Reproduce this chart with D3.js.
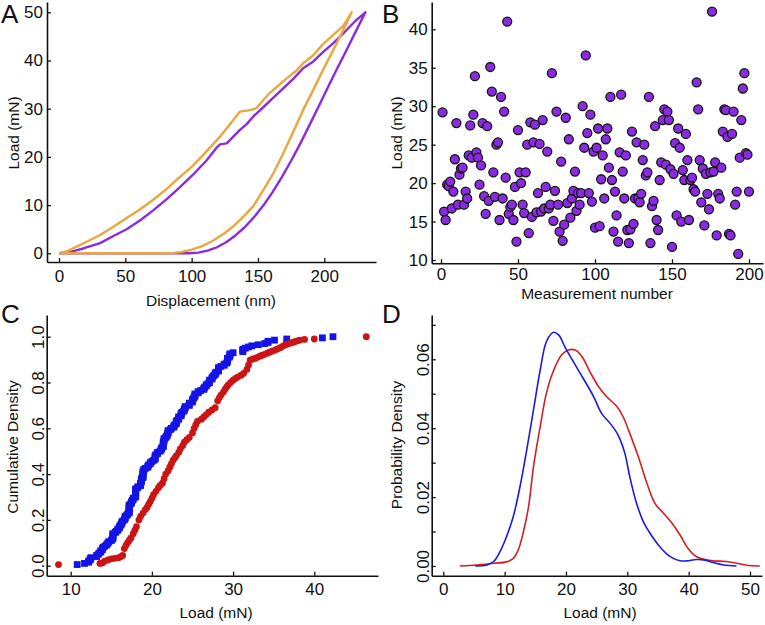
<!DOCTYPE html>
<html><head><meta charset="utf-8">
<script src="https://cdn.jsdelivr.net/npm/d3@7"></script>
<style>
body{margin:0;background:#fff}
svg{display:block}
text{font-family:"Liberation Sans",Arial,Helvetica,sans-serif;fill:#111}
</style>
</head><body>
<svg id="c" width="765" height="625"></svg>
<script>
// ---------- Panel A: load-displacement curves ----------
const orangeDisp = [0,7,13.3,20.9,30.9,41,51,61,71,81,91,101,111,121,131,136.4,144,149,154,159,166.6,174,179,184,191.7,199,206.8,214.3,220.6,
  214.3,206.8,199,191.7,184,176.6,169,161.6,154,146.5,139,131,124,116,108,100,92,85,80,0];
const orangeLoad = [0,0.55,1.4,2.4,3.8,5.5,7.3,9.1,11.1,13.3,15.8,18.2,21.1,24.1,27.5,29.4,29.7,30.1,31.8,33.3,35.1,36.8,37.9,39.4,41.1,43.4,45.3,47.2,50,
  46.3,42.2,38.0,33.9,29.7,25.2,20.7,16.6,13.1,9.8,7.6,5.5,4.0,2.6,1.5,0.75,0.25,0.03,0,0];
const purpleDisp = [0,9.5,18.3,31,41,51,61,71,81,91,101,111,118.8,121.4,126.4,131.4,136.4,141.5,146.5,154,161.6,169,176.6,184,191.7,199.2,206.8,214.3,223,231,
  224,217,210,203,196,189,182,175,168,161,154,147,140,133,126,119,112,105,98,95,0];
const purpleLoad = [0,0.35,1.0,2.1,3.6,5.0,6.8,8.9,11.2,13.7,16.3,19.2,21.9,22.6,22.8,24.2,25.6,26.8,28.4,30.3,32.3,34.2,36.2,38.4,39.8,41.8,43.6,45.6,48.1,50,
  46.2,42.3,38.5,34.6,30.6,26.7,22.8,19.2,15.8,12.7,9.9,7.5,5.4,3.7,2.3,1.25,0.55,0.15,0.02,0,0];
const ticksA_x = [0,50,100,150,200];
const ticksA_y = [0,10,20,30,40,50];

// ---------- Panel B: load per measurement (n = 1..200) ----------
const loadB = [
29.2,16.3,15.2,19.8,19.6,20.2,16.7,18.9,23.1,27.8,
17.2,21.1,21.9,22.0,17.2,18.9,18.0,23.6,27.5,23.3,
28.9,33.9,24.0,23.3,19.8,22.3,27.8,18.3,16.0,27.4,
17.7,35.1,31.9,21.4,18.2,25.0,25.3,15.2,31.2,18.0,
29.3,20.7,41.0,16.0,16.9,17.2,15.2,19.5,12.4,26.9,
21.4,20.0,17.2,16.1,21.4,25.0,13.5,27.9,15.6,25.3,
27.6,16.2,18.7,25.1,16.3,28.2,16.7,19.5,24.1,16.7,
17.2,34.3,15.1,19.0,29.3,17.2,13.7,22.8,12.5,14.6,
28.5,17.4,25.7,15.5,18.0,19.0,21.5,16.4,18.7,17.2,
18.7,30.0,24.6,36.6,26.5,18.7,28.9,17.6,24.1,14.2,
24.6,27.1,14.4,20.5,23.6,18.0,25.7,27.1,22.0,31.2,
20.4,13.7,18.9,15.8,12.4,24.0,31.5,21.5,18.0,23.6,
13.9,12.2,14.0,26.7,14.7,18.0,25.3,18.0,17.5,18.6,
23.0,25.0,21.0,21.4,31.2,12.2,17.0,17.7,27.4,15.2,
13.9,20.4,22.7,28.2,29.6,22.4,29.3,28.2,21.8,11.7,
21.2,25.2,15.8,27.1,24.6,15.0,21.7,20.4,26.4,23.0,
15.2,20.4,20.7,19.2,18.9,33.1,29.6,23.0,17.5,21.9,
14.5,21.2,18.6,16.6,21.4,42.3,21.5,22.7,13.2,18.6,
18.0,22.0,26.7,29.6,29.5,26.0,13.4,13.2,26.4,29.3,
17.2,18.9,10.8,23.3,28.2,32.3,34.3,23.9,23.7,18.9];
const ticksB_x = [0,50,100,150,200];
const ticksB_y = [10,15,20,25,30,35,40];

// ---------- Panel C: cumulative density (red series) ----------
const redLoadC = [8.5,13.6,13.9,14.2,14.6,15.0,15.4,15.9,16.2,16.4,16.6,16.8,17.0,17.2,17.4,17.7,17.9,18.1,18.4,18.6,18.9,19.2,19.4,19.6,19.8,20.0,20.2,20.5,20.8,21.0,21.3,21.5,21.7,22.0,22.2,22.4,22.6,22.8,23.0,23.3,23.5,23.8,24.0,24.3,24.6,25.0,25.2,25.4,25.6,26.1,26.4,26.7,27.0,27.4,27.8,28.1,28.3,28.5,28.8,29.0,29.2,29.4,29.7,30.0,30.3,30.6,31.0,31.3,31.7,31.9,32.1,32.4,32.7,33.0,33.3,33.6,33.9,34.2,34.5,34.8,35.2,35.5,35.8,36.1,36.4,36.7,37.0,37.3,37.6,37.9,38.2,38.8,40.0,46.4];
const redCumC  = [0.005,0.01,0.012,0.02,0.025,0.03,0.032,0.035,0.04,0.045,0.075,0.088,0.10,0.11,0.12,0.14,0.155,0.17,0.20,0.215,0.23,0.245,0.255,0.268,0.28,0.295,0.31,0.325,0.34,0.35,0.36,0.38,0.40,0.415,0.43,0.445,0.46,0.47,0.48,0.495,0.51,0.525,0.54,0.55,0.56,0.58,0.60,0.615,0.63,0.64,0.65,0.66,0.67,0.68,0.69,0.72,0.733,0.745,0.758,0.77,0.78,0.79,0.80,0.81,0.818,0.825,0.832,0.84,0.857,0.876,0.898,0.902,0.905,0.91,0.915,0.919,0.923,0.928,0.932,0.937,0.942,0.947,0.952,0.958,0.964,0.968,0.971,0.975,0.978,0.982,0.985,0.988,0.99,1.0];
const ticksC_x = [10,20,30,40];
const ticksC_y = [0,0.2,0.4,0.6,0.8,1.0];

// ---------- Panel D: probability density curves ----------
const blueDensX = [5.2,7.1,8.2,9.2,10.3,11.4,12.5,13.6,14.7,15.8,16.8,17.9,18.8,19.8,21.2,22.8,24.5,25.8,27.2,28.5,29.6,30.4,31.5,32.6,33.7,35.3,37.0,38.6,39.7,41.3,42.7,44.0,45.7,47.8];
const blueDensY = [0,0.0003,0.0013,0.004,0.0085,0.0143,0.023,0.0337,0.0453,0.0569,0.0651,0.0678,0.0671,0.0637,0.0593,0.0545,0.0492,0.0443,0.0414,0.038,0.0327,0.0259,0.0182,0.0129,0.0095,0.0056,0.0027,0.0015,0.0015,0.0019,0.0017,0.001,0.0003,0];
const redDensX = [2.7,5.4,8.2,10.3,11.4,12.2,13.0,13.9,14.7,15.8,16.8,17.9,19.3,20.4,21.5,22.6,23.9,25.3,26.6,28.3,29.3,30.4,31.8,33.2,34.5,35.9,37.2,38.6,39.9,41.3,42.7,44.0,46.2,47.8,49.5,51.6];
const redDensY = [0,0.0003,0.0008,0.0012,0.0022,0.0046,0.0095,0.0172,0.0288,0.0405,0.0501,0.0564,0.0613,0.0627,0.0627,0.0608,0.0564,0.0521,0.0492,0.0463,0.0434,0.0385,0.0317,0.024,0.0182,0.0153,0.0126,0.009,0.0051,0.0027,0.0019,0.0015,0.0013,0.0008,0.0002,0];
const ticksD_x = [0,10,20,30,40,50];
const ticksD_y = [0,0.01,0.02,0.03,0.04,0.05,0.06,0.07];

// ---------- helpers ----------
const svg = d3.select("#c");
const FONT_TICK = 17, FONT_TITLE = 15.5;
function lin(d0,p0,d1,p1,pmin,pmax){
  const s = d3.scaleLinear().domain([d0,d1]).range([p0,p1]);
  return d3.scaleLinear().domain([s.invert(pmin), s.invert(pmax)]).range([pmin,pmax]);
}
function styleAxis(g){
  g.select(".domain").attr("stroke","#111").attr("stroke-width",1.6);
  g.selectAll(".tick line").attr("stroke","#111").attr("stroke-width",1.3);
  g.selectAll(".tick text").attr("font-size",FONT_TICK).attr("fill","#111")
    .attr("font-family",'"Liberation Sans",Arial,Helvetica,sans-serif');
}
function xAxis(xs, y, ticks, pad){
  const g = svg.append("g").attr("transform",`translate(0,${y})`)
    .call(d3.axisBottom(xs).tickValues(ticks).tickSizeInner(-4).tickSizeOuter(0).tickPadding(pad).tickFormat(d3.format("d")));
  styleAxis(g); return g;
}
function yAxis(ys, x, ticks, fmt, rotated){
  const g = svg.append("g").attr("transform",`translate(${x},0)`)
    .call(d3.axisLeft(ys).tickValues(ticks).tickSizeInner(-4).tickSizeOuter(0).tickPadding(4).tickFormat(fmt||d3.format("d")));
  styleAxis(g);
  if(rotated){
    g.selectAll(".tick text").attr("transform","rotate(-90)").attr("x",0).attr("y",-3).attr("dy",0)
      .attr("text-anchor","middle");
  }
  return g;
}
function title(txt,x,y,rot){
  const t = svg.append("text").attr("font-size",FONT_TITLE).attr("text-anchor","middle").text(txt);
  if(rot) t.attr("transform",`translate(${x},${y}) rotate(-90)`).attr("dy","0.35em");
  else t.attr("x",x).attr("y",y);
}
function letter(txt,x,y){
  svg.append("text").attr("x",x).attr("y",y).attr("font-size",26).text(txt);
}

// ---------- Panel A ----------
{
  const xs = lin(0,59,200,324.3,47,376);
  const ys = lin(0,253.3,50,12.3,262,2);
  const line = d3.line().x(d=>xs(d[0])).y(d=>ys(d[1]));
  const pp = purpleDisp.map((d,i)=>[d,purpleLoad[i]]);
  const op = orangeDisp.map((d,i)=>[d,orangeLoad[i]]);
  svg.append("path").attr("d",line(pp)).attr("fill","none").attr("stroke","#8a2be2").attr("stroke-width",2.4).attr("stroke-linejoin","round");
  svg.append("path").attr("d",line(op)).attr("fill","none").attr("stroke","#e9a83d").attr("stroke-width",2.4).attr("stroke-linejoin","round");
  xAxis(xs,262,ticksA_x,8);
  yAxis(ys,47,ticksA_y);
  title("Displacement (nm)",211,306);
  title("Load (mN)",14,133,true);
  letter("A",1,23);
}

// ---------- Panel B ----------
{
  const xs = lin(0,441,200,749,431.7,763);
  const ys = lin(10,260,40,29.3,263.3,2);
  svg.append("g").selectAll("circle").data(loadB).join("circle")
    .attr("cx",(d,i)=>xs(i+1)).attr("cy",d=>ys(d)).attr("r",4.5)
    .attr("fill","#8a2be2").attr("stroke","#151515").attr("stroke-width",1.3);
  xAxis(xs,263.3,ticksB_x,5);
  yAxis(ys,431.7,ticksB_y);
  title("Measurement number",597,299);
  title("Load (mN)",397,133,true);
  letter("B",382,23);
}

// ---------- Panel C ----------
{
  const xs = lin(10,70.7,40,314.3,46.7,378);
  const ys = lin(0,565.7,1,336.7,575.7,315);
  const sorted = d3.sort(loadB);
  const n = sorted.length;
  svg.append("g").selectAll("rect").data(sorted).join("rect")
    .attr("x",d=>xs(d)-3.4).attr("y",(d,i)=>ys((i+1)/n)-3.4).attr("width",6.8).attr("height",6.8)
    .attr("fill","#1414e6");
  svg.append("g").selectAll("circle").data(redLoadC).join("circle")
    .attr("cx",d=>xs(d)).attr("cy",(d,i)=>ys(redCumC[i])).attr("r",3.4)
    .attr("fill","#cc1414");
  xAxis(xs,575.7,ticksC_x,7);
  yAxis(ys,46.7,ticksC_y,d3.format(".1f"),true);
  title("Load (mN)",216,618);
  title("Cumulative Density",13,447,true);
  letter("C",1,323);
}

// ---------- Panel D ----------
{
  const xs = lin(0,443.3,50,750,431.7,762);
  const ys = lin(0,566,0.06,359.3,575.7,315);
  const line = d3.line().x(d=>xs(d[0])).y(d=>ys(d[1])).curve(d3.curveCatmullRom.alpha(0.5));
  svg.append("path").attr("d",line(redDensX.map((d,i)=>[d,redDensY[i]]))).attr("fill","none").attr("stroke","#d02020").attr("stroke-width",1.6);
  svg.append("path").attr("d",line(blueDensX.map((d,i)=>[d,blueDensY[i]]))).attr("fill","none").attr("stroke","#1a1ae8").attr("stroke-width",1.6);
  xAxis(xs,575.7,ticksD_x,7);
  yAxis(ys,431.7,ticksD_y,d=>{const k=Math.round(d*100);return k%2===0?d3.format(".2f")(d):"";},true);
  title("Load (mN)",600,618);
  title("Probability Density",397,445,true);
  letter("D",382,323);
}
</script>
</body></html>
